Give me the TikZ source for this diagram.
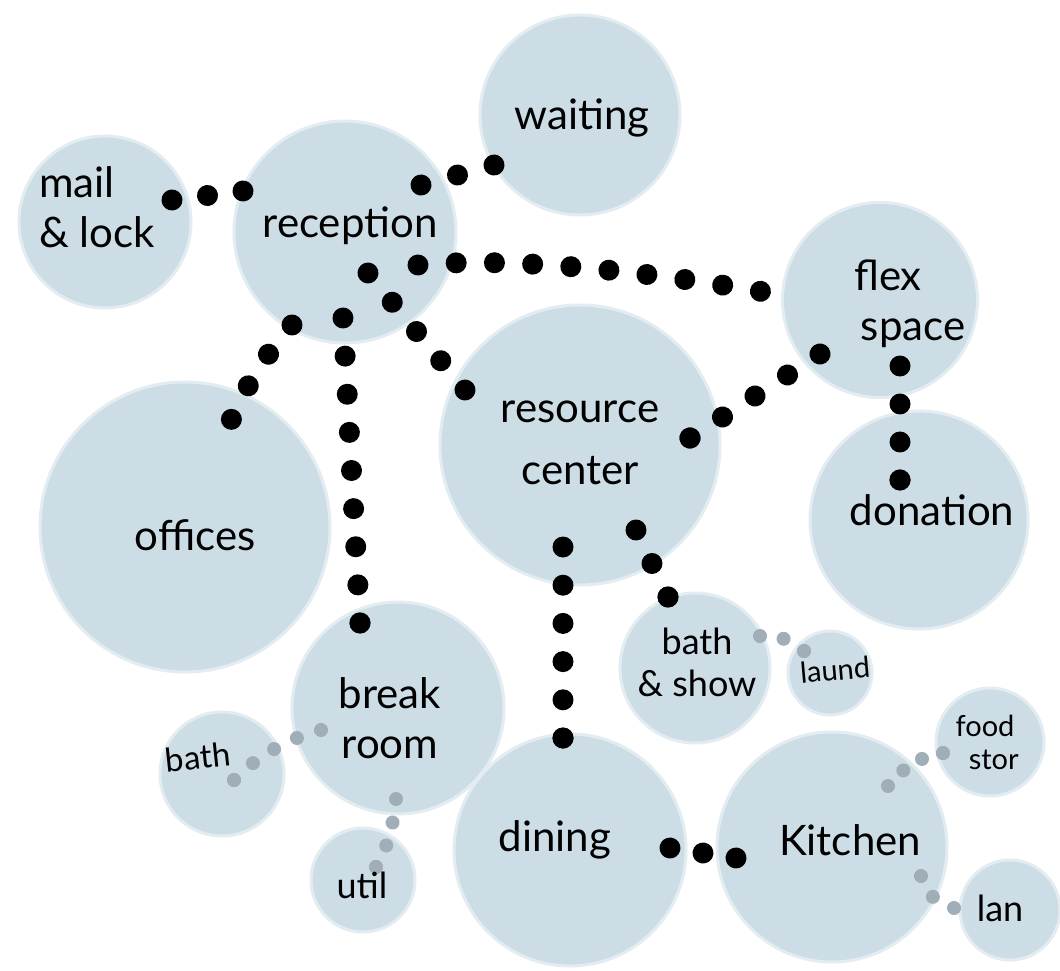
\documentclass[tikz,border=0pt]{standalone}
\usepackage{fontspec}
\setmainfont{Lato}
\usetikzlibrary{decorations.markings}
\definecolor{roomblue}{RGB}{204,221,230}
\definecolor{dotgrey}{RGB}{160,174,184}
\tikzset{
  room/.style={circle, fill=roomblue, draw=roomblue!55!white, line width=3pt, inner sep=0pt, minimum size=#1},
  lbl/.style={font=\fontsize{42}{50}\selectfont, align=center, inner sep=0pt, text=black},
  lblm/.style={font=\fontsize{36}{42}\selectfont, align=center, inner sep=0pt, text=black},
  lbls/.style={font=\fontsize{29}{33}\selectfont, align=center, inner sep=0pt, text=black},
  bdots/.style={postaction={decorate, decoration={markings,
      mark=between positions 0 and 1 step #1 with {\fill[black] (0,0) circle[radius=10.5];},
      mark=at position 0.99999 with {\fill[black] (0,0) circle[radius=10.5];}}}},
  gdots/.style={postaction={decorate, decoration={markings,
      mark=between positions 0 and 1 step #1 with {\fill[dotgrey] (0,0) circle[radius=7];},
      mark=at position 0.99999 with {\fill[dotgrey] (0,0) circle[radius=7];}}}},
}
\begin{document}
\begin{tikzpicture}[x=1pt, y=-1pt]
\fill[white] (0,0) rectangle (1060,971);
\useasboundingbox (0,0) rectangle (1060,971);
% rooms
\node[room=172pt] (mail) at (105,222) {};
\node[room=222pt] (rec) at (345,232) {};
\node[room=200pt] (wait) at (580,115) {};
\node[room=195pt] (flex) at (880,300) {};
\node[room=280pt] (res) at (580,445) {};
\node[room=290pt] (off) at (185,527) {};
\node[room=218pt] (don) at (919,520) {};
\node[room=212pt] (brk) at (398,708) {};
\node[room=124pt] (bathl) at (222,774) {};
\node[room=104pt] (util) at (363,880) {};
\node[room=150pt] (bsh) at (695,668) {};
\node[room=84pt] (laund) at (830,673) {};
\node[room=232pt] (din) at (570,850) {};
\node[room=230pt] (kit) at (832,847) {};
\node[room=108pt] (food) at (990,742) {};
\node[room=100pt] (lan) at (1010,910) {};
% connector end points
\coordinate (m1) at (172,200); \coordinate (m2) at (243,191);
\coordinate (w1) at (421,185); \coordinate (w2) at (494,165);
\coordinate (f1) at (418,265); \coordinate (f2) at (798,298);
\coordinate (o1) at (292,325); \coordinate (o2) at (220,455);
\coordinate (b1) at (343,318); \coordinate (b2) at (360,623);
\coordinate (r1) at (368,273); \coordinate (r2) at (465,390);
\coordinate (fr1) at (820,354); \coordinate (fr2) at (690,438);
\coordinate (fd1) at (900,366); \coordinate (fd2) at (900,480);
\coordinate (rd1) at (563,547); \coordinate (rd2) at (563,738);
\coordinate (rb1) at (636,530); \coordinate (rb2) at (668,597);
\coordinate (dk1) at (670,848); \coordinate (dk2) at (736,858);
\coordinate (bl1) at (760,636); \coordinate (bl2) at (804,651);
\coordinate (bb1) at (321,730); \coordinate (bb2) at (234,780);
\coordinate (bu1) at (396,799); \coordinate (bu2) at (376,867);
\coordinate (kf1) at (888,786); \coordinate (kf2) at (943,753);
\coordinate (kl1) at (921,876); \coordinate (kl2) at (954,908);
% black dotted connectors
\path[bdots=0.5] (m1) -- (m2);
\path[bdots=0.5] (w1) -- (w2);
\path[bdots=0.1] (f1) .. controls (530,255) and (690,278) .. (f2);
\path[bdots=0.25] (o1) .. controls (258,362) and (226,420) .. (o2);
\path[bdots=0.125] (b1) -- (b2);
\path[bdots=0.25] (r1) -- (r2);
\path[bdots=0.25] (fr1) -- (fr2);
\path[bdots=0.3333] (fd1) -- (fd2);
\path[bdots=0.2] (rd1) -- (rd2);
\path[bdots=0.5] (rb1) -- (rb2);
\path[bdots=0.5] (dk1) -- (dk2);
% grey dotted connectors
\path[gdots=0.5] (bl1) .. controls (775,634) and (792,640) .. (bl2);
\path[gdots=0.25] (bb1) .. controls (290,738) and (258,755) .. (bb2);
\path[gdots=0.3333] (bu1) .. controls (394,822) and (388,848) .. (bu2);
\path[gdots=0.3333] (kf1) .. controls (900,770) and (922,755) .. (kf2);
\path[gdots=0.5] (kl1) .. controls (926,895) and (940,905) .. (kl2);
% labels
\node[lbl, align=left] (t-mail) at (97,207) {mail\\\& lock};
\node[lbl] (t-rec) at (350,226) {reception};
\node[lbl] (t-wait) at (582,118) {waiting};
\node[lbl] (t-flex) at (888,304) {flex\\\hspace*{1.2em}space};
\node[lbl, font=\fontsize{42}{62}\selectfont] (t-res) at (580,443) {resource\\center};
\node[lbl] (t-off) at (195,535) {offices};
\node[lbl] (t-don) at (932,510) {donation};
\node[lbl] (t-brk) at (390,718) {break\\room};
\node[lblm, font=\fontsize{33}{40}\selectfont, rotate=6] (t-bathl) at (198,757) {bath};
\node[lblm] (t-util) at (362,885) {util};
\node[lblm] (t-bsh) at (697,662) {bath\\\& show};
\node[lbls, rotate=5] (t-laund) at (835,670) {laund};
\node[lbl] (t-din) at (555,840) {dining};
\node[lbl] (t-kit) at (850,840) {Kitchen};
\node[lbls] (t-food) at (985,742) {food\\\hspace*{0.6em}stor};
\node[lblm] (t-lan) at (1000,908) {lan};
\end{tikzpicture}
\end{document}
